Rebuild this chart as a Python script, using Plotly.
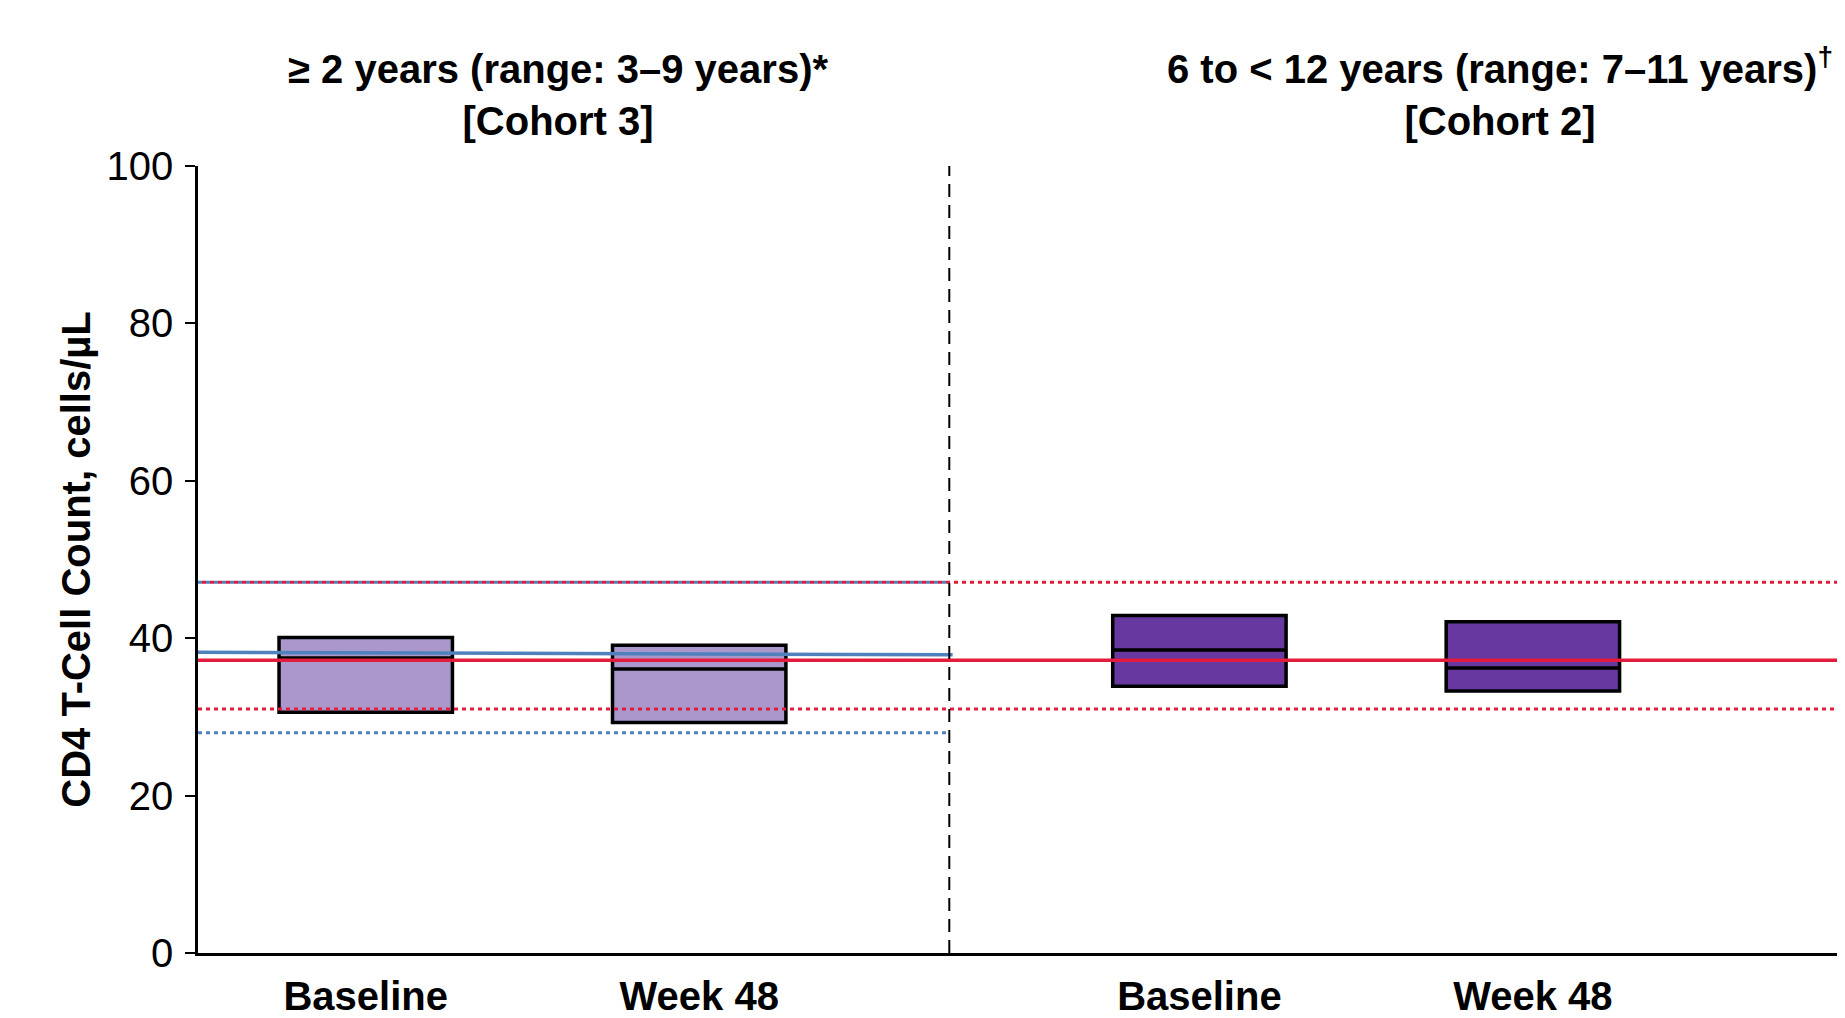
import plotly.graph_objects as go

# ---- data ----
categories = ["Baseline", "Week 48", "Baseline", "Week 48"]
x_pos = [1, 2, 3.5, 4.5]
q1 = [30.6, 29.3, 33.9, 33.3]
median = [37.5, 36.1, 38.5, 36.2]
q3 = [40.1, 39.1, 42.9, 42.1]
box_colors = ["#AA97CC", "#AA97CC", "#6638A0", "#6638A0"]

panel_titles = ["<b>≥ 2 years (range: 3–9 years)*<br>[Cohort 3]</b>",
                "<b>6 to < 12 years (range: 7–11 years)<sup>†</sup><br>[Cohort 2]</b>"]

x_left, x_div, x_right = 0.497, 2.75, 5.46
blue_median = [38.2, 37.9]
blue_lower, blue_upper = 28.0, 47.1
red_median = 37.2
red_lower, red_upper = 31.0, 47.1

y_ticks = [0, 20, 40, 60, 80, 100]

BLUE = "#4F81BD"
RED = "#E31C3D"
FONT = "Liberation Sans, Arial, sans-serif"
DOT = "4px,4px"
PHASE = 0.012  # ~4px shift so the red and blue dots alternate

fig = go.Figure()

# blue reference lines (left panel)
fig.add_trace(go.Scatter(x=[x_left, x_div], y=[blue_upper, blue_upper], mode="lines",
                         line=dict(color=BLUE, width=3, dash=DOT), showlegend=False))
fig.add_trace(go.Scatter(x=[x_left, x_div], y=[blue_lower, blue_lower], mode="lines",
                         line=dict(color=BLUE, width=3, dash=DOT), showlegend=False))
fig.add_trace(go.Scatter(x=[x_left, x_div + 0.01], y=blue_median, mode="lines",
                         line=dict(color=BLUE, width=3.5), showlegend=False))
# red reference lines (full width)
fig.add_trace(go.Scatter(x=[x_left + PHASE, x_right], y=[red_upper, red_upper], mode="lines",
                         line=dict(color=RED, width=3, dash=DOT), showlegend=False))
fig.add_trace(go.Scatter(x=[x_left, x_right], y=[red_lower, red_lower], mode="lines",
                         line=dict(color=RED, width=3, dash=DOT), showlegend=False))
fig.add_trace(go.Scatter(x=[x_left, x_right], y=[red_median, red_median], mode="lines",
                         line=dict(color=RED, width=3.5), showlegend=False))

# divider
fig.add_trace(go.Scatter(x=[x_div, x_div], y=[0, 100], mode="lines",
                         line=dict(color="black", width=2, dash="13px,8px"), showlegend=False))

# boxes
for i in range(len(x_pos)):
    fig.add_trace(go.Box(x=[x_pos[i]], q1=[q1[i]], median=[median[i]], q3=[q3[i]],
                         lowerfence=[q1[i]], upperfence=[q3[i]], width=0.52,
                         whiskerwidth=0, fillcolor=box_colors[i],
                         line=dict(color="black", width=3.5), boxpoints=False,
                         showlegend=False))

# panel titles
for xt, txt in zip([1.578, 4.40], panel_titles):
    fig.add_annotation(x=xt, y=1.0, xref="x", yref="paper", text=txt, showarrow=False,
                       yanchor="bottom", yshift=21, font=dict(family=FONT, size=40, color="black"))

fig.update_layout(
    width=1845, height=1018,
    margin=dict(l=190, r=0, t=158, b=73),
    plot_bgcolor="white", paper_bgcolor="white",
    font=dict(family=FONT, color="black"),
    xaxis=dict(range=[x_left, x_right], tickvals=x_pos,
               ticktext=["<b>%s</b>" % c for c in categories],
               tickfont=dict(family=FONT, size=40, color="black"),
               showgrid=False, zeroline=False, showline=True, linecolor="black", linewidth=2.5,
               ticks="", ticklabelstandoff=6, automargin=False),
    yaxis=dict(range=[0, 100], tickvals=y_ticks, showgrid=False, zeroline=False,
               showline=True, linecolor="black", linewidth=2.5,
               ticks="outside", ticklen=10, tickwidth=2, tickcolor="black",
               ticklabelstandoff=4,
               tickfont=dict(family=FONT, size=40, color="black"),
               automargin=False,
               title=dict(text="<b>CD4 T-Cell Count, cells/µL</b>",
                          font=dict(family=FONT, size=40, color="black"), standoff=4)),
)

fig.write_html("out.html")
